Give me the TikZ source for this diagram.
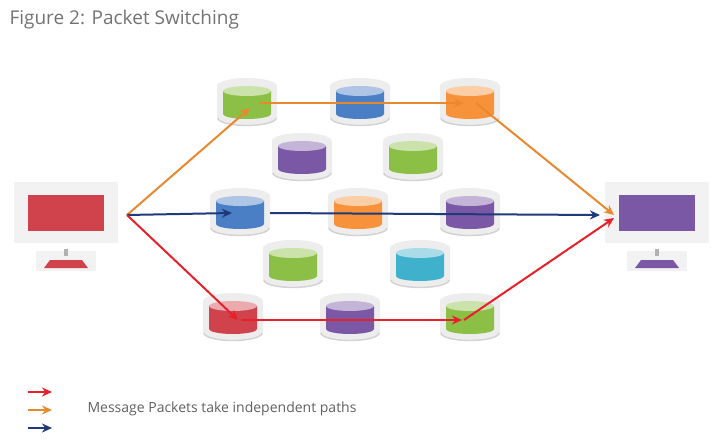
\documentclass[tikz,border=0pt]{standalone}
\usepackage{fontspec}
\setmainfont{Open Sans}
\usetikzlibrary{arrows.meta}
\definecolor{cg}{HTML}{8CBF45}
\definecolor{cb}{HTML}{4A7FC6}
\definecolor{co}{HTML}{F7923A}
\definecolor{cp}{HTML}{7B58A6}
\definecolor{cr}{HTML}{D0434C}
\definecolor{cc}{HTML}{3FB1CC}
\definecolor{ao}{HTML}{E8892E}
\definecolor{an}{HTML}{1F3A7A}
\definecolor{ar}{HTML}{E8202A}
\tikzset{
  link/.style={line width=2pt,-{Stealth[length=10pt,width=9pt]}},
  cyl/.pic={
    \fill[gray!14] (-30,-17) -- (-30,15) arc[start angle=180,end angle=0,x radius=30,y radius=8] -- (30,-17) arc[start angle=0,end angle=-180,x radius=30,y radius=8];
    \draw[gray!35,line width=1.4pt] (-29,15) arc[start angle=180,end angle=0,x radius=29,y radius=7.5];
    \fill[\tikzpictextoptions] (-24,-12) -- (-24,11) arc[start angle=180,end angle=0,x radius=24,y radius=5] -- (24,-12) -- cycle;
    \fill[\tikzpictextoptions!45!white] (0,-12) ellipse[x radius=24,y radius=5];
  },
  monitor/.pic={
    \fill[gray!10] (-52,-31) rectangle (52,30);
    \fill[\tikzpictextoptions] (-38,-18) rectangle (38,18);
    \fill[gray!10] (-30,38) rectangle (30,58);
    \fill[gray!60] (-2,36) rectangle (2,43);
    \fill[\tikzpictextoptions] (-22,55) -- (-16,47) -- (16,47) -- (22,55) -- cycle;
  }
}
\begin{document}
\begin{tikzpicture}[x=1pt,y=-1pt]
\useasboundingbox (0,0) rectangle (720,444);
\node[anchor=west,text=gray!90!black,font=\fontsize{19}{22}\selectfont] (title) at (6,20) {Figure 2: Packet Switching};
\foreach \x/\y/\c/\n in {247/103/cg/a1,360/103/cb/a2,470/103/co/a3,
  302/158/cp/b1,413/158/cg/b2,
  240/213/cb/c1,358/213/co/c2,470/213/cp/c3,
  293/265/cg/d1,420/265/cc/d2,
  233/318/cr/e1,350/318/cp/e2,470/318/cg/e3}{
  \pic[pic text options=\c] at (\x,\y) {cyl};
  \coordinate (\n) at (\x,\y);
}
\pic[pic text options=cr] at (66,213) {monitor};
\pic[pic text options=cp] at (657,213) {monitor};
\coordinate (src) at (127,215);
\coordinate (dst) at (614,215);
\draw[link,ao] (src) -- ([shift={(3,5)}]a1);
\draw[link,ao] ([shift={(12,0)}]a1) -- ([shift={(-6,0)}]a3);
\draw[link,ao] ([shift={(6,0)}]a3) -- (dst);
\draw[link,an] (src) -- ([shift={(-8,0)}]c1);
\draw[link,an] ([shift={(30,0)}]c1) -- ([shift={(-14,0)}]dst);
\draw[link,ar] (src) -- ([shift={(5,2)}]e1);
\draw[link,ar] ([shift={(8,2)}]e1) -- ([shift={(-8,2)}]e3);
\draw[link,ar] ([shift={(-6,2)}]e3) -- ([shift={(0,3)}]dst);
\coordinate (l1) at (28,392); \coordinate (l1e) at (52,392);
\coordinate (l2) at (28,410); \coordinate (l2e) at (52,410);
\coordinate (l3) at (28,428); \coordinate (l3e) at (52,428);
\draw[link,ar] (l1) -- (l1e);
\draw[link,ao] (l2) -- (l2e);
\draw[link,an] (l3) -- (l3e);
\node[anchor=west,text=gray!75!black,font=\fontsize{14}{17}\selectfont] (leg) at (84,409) {Message Packets take independent paths};
\end{tikzpicture}
\end{document}
